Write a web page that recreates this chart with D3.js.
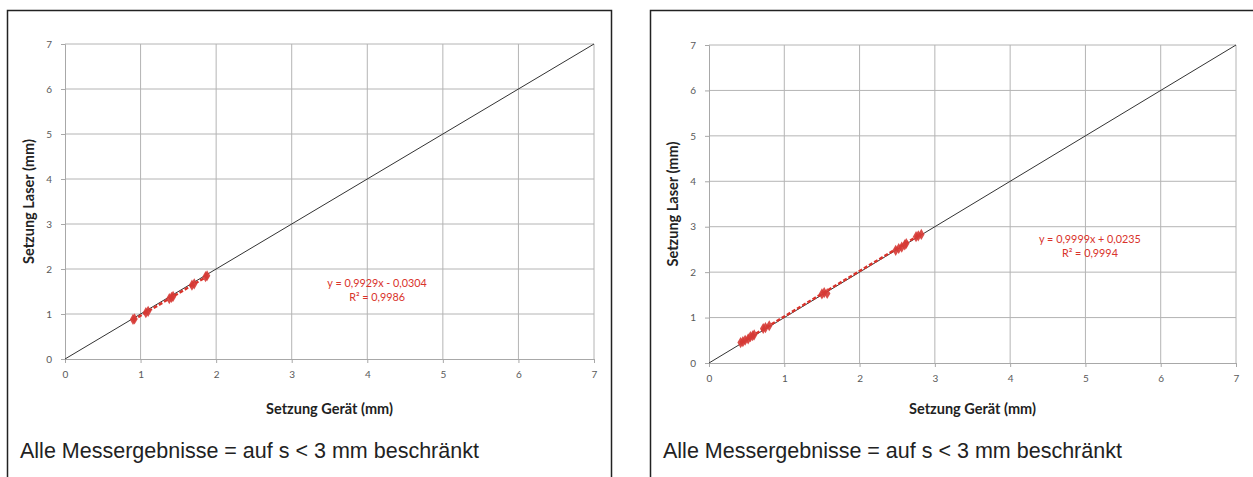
<!DOCTYPE html>
<html>
<head>
<meta charset="utf-8">
<script src="https://cdn.jsdelivr.net/npm/d3@7"></script>
<style>
    body { margin: 0; background: #fff; }
    .tick text { font-family: Lato, "Open Sans", sans-serif; font-size: 10px; fill: #595959; }
    .axis-title { font-family: Lato, "Open Sans", sans-serif; font-size: 14.5px; font-weight: bold; fill: #222; }
    .caption { font-family: "Liberation Sans", Arial, sans-serif; font-size: 21.5px; fill: #222; }
    .eq { font-family: Lato, "Open Sans", sans-serif; font-size: 10.8px; fill: #d9332b; }
</style>
</head>
<body>
<div id="chart"></div>
<script>

// ticks for both axes
let axisTicks = [0, 1, 2, 3, 4, 5, 6, 7];

// left chart: measured points (Gerät, Laser)
let leftGeraet = [0.90, 0.92, 1.07, 1.10, 1.38, 1.41, 1.43, 1.68, 1.71, 1.86, 1.88];
let leftLaser  = [0.88, 0.89, 1.03, 1.06, 1.34, 1.37, 1.39, 1.64, 1.67, 1.83, 1.85];
let leftTrend = {slope: 0.9929, intercept: -0.0304};
let leftEquation = ["y = 0,9929x - 0,0304", "R² = 0,9986"];

// right chart
let rightGeraet = [0.42, 0.45, 0.48, 0.52, 0.55, 0.58, 0.60, 0.72, 0.75, 0.80, 1.50, 1.53, 1.57, 2.48, 2.52, 2.56, 2.60, 2.62, 2.75, 2.78, 2.82];
let rightLaser  = [0.45, 0.47, 0.50, 0.53, 0.58, 0.60, 0.62, 0.76, 0.78, 0.82, 1.52, 1.55, 1.53, 2.48, 2.52, 2.55, 2.60, 2.63, 2.78, 2.80, 2.83];
let rightTrend = {slope: 0.9999, intercept: 0.0235};
let rightEquation = ["y = 0,9999x + 0,0235", "R² = 0,9994"];

let xTitle = "Setzung Gerät (mm)";
let yTitle = "Setzung Laser (mm)";
let caption = "Alle Messergebnisse = auf s < 3 mm beschränkt";

let svg = d3.select("#chart").append("svg")
    .attr("width", 1253)
    .attr("height", 477);

function drawPanel(opts) {
    let g = svg.append("g")
        .attr("transform", `translate(${opts.left}, 0)`);

    // frame
    g.append("rect")
        .attr("x", 0.5).attr("y", 10.5)
        .attr("width", opts.frameWidth).attr("height", 500)
        .attr("fill", "none")
        .attr("stroke", "#222")
        .attr("stroke-width", 1.5);

    let x = d3.scaleLinear().domain([0, 7]).range([opts.plotX0, opts.plotX1]);
    let y = d3.scaleLinear().domain([0, 7]).range([opts.plotY0, opts.plotY1]);

    // grid
    g.append("g").selectAll("line")
        .data(axisTicks.slice(1))
        .join("line")
        .attr("x1", d => x(d)).attr("x2", d => x(d))
        .attr("y1", y(0)).attr("y2", y(7))
        .attr("stroke", "#b4b4b4").attr("stroke-width", 1);
    g.append("g").selectAll("line")
        .data(axisTicks.slice(1))
        .join("line")
        .attr("x1", x(0)).attr("x2", x(7))
        .attr("y1", d => y(d)).attr("y2", d => y(d))
        .attr("stroke", "#b4b4b4").attr("stroke-width", 1);

    // axes
    let xAxis = g.append("g")
        .attr("transform", `translate(0, ${y(0)})`)
        .call(d3.axisBottom(x).tickValues(axisTicks).tickFormat(d3.format("d")).tickSize(4).tickPadding(8));
    let yAxis = g.append("g")
        .attr("transform", `translate(${x(0)}, 0)`)
        .call(d3.axisLeft(y).tickValues(axisTicks).tickFormat(d3.format("d")).tickSize(4).tickPadding(9));
    [xAxis, yAxis].forEach(a => {
        a.select(".domain").attr("stroke", "#a8a8a8");
        a.selectAll(".tick line").attr("stroke", "#a8a8a8");
    });

    // 1:1 line
    g.append("line")
        .attr("x1", x(0)).attr("y1", y(0))
        .attr("x2", x(7)).attr("y2", y(7))
        .attr("stroke", "#333").attr("stroke-width", 1);

    // trend line
    let xMin = d3.min(opts.xs), xMax = d3.max(opts.xs);
    g.append("line")
        .attr("x1", x(xMin)).attr("y1", y(opts.trend.slope * xMin + opts.trend.intercept))
        .attr("x2", x(xMax)).attr("y2", y(opts.trend.slope * xMax + opts.trend.intercept))
        .attr("stroke", "#d9332b").attr("stroke-width", 2.4)
        .attr("stroke-dasharray", "4,2");

    // points (diamonds)
    let pts = opts.xs.map((d, i) => ({gx: d, ly: opts.ys[i]}));
    g.append("g").selectAll("path")
        .data(pts)
        .join("path")
        .attr("d", d3.symbol().type(d3.symbolDiamond).size(36))
        .attr("transform", d => `translate(${x(d.gx)}, ${y(d.ly)})`)
        .attr("fill", "#d63a35")
        .attr("fill-opacity", 0.9);

    // equation
    let eq = g.append("text").attr("class", "eq").attr("text-anchor", "middle");
    eq.selectAll("tspan")
        .data(opts.equation)
        .join("tspan")
        .attr("x", x(opts.eqPos[0]))
        .attr("y", (d, i) => y(opts.eqPos[1]) + i * 14)
        .text(d => d);

    // axis titles
    g.append("text").attr("class", "axis-title")
        .attr("text-anchor", "middle")
        .attr("x", (x(0) + x(7)) / 2)
        .attr("y", 414)
        .text(xTitle);
    g.append("text").attr("class", "axis-title")
        .attr("text-anchor", "middle")
        .attr("transform", `translate(${x(0) - 31}, ${(y(0) + y(7)) / 2}) rotate(-90)`)
        .text(yTitle);

    // caption
    g.append("text").attr("class", "caption")
        .attr("x", 13)
        .attr("y", 458)
        .text(caption);
}

drawPanel({
    left: 7, frameWidth: 604,
    plotX0: 58, plotX1: 587, plotY0: 359, plotY1: 44,
    xs: leftGeraet, ys: leftLaser, trend: leftTrend,
    equation: leftEquation, eqPos: [4.13, 1.6]
});

drawPanel({
    left: 650, frameWidth: 700,
    plotX0: 59, plotX1: 586, plotY0: 363, plotY1: 45,
    xs: rightGeraet, ys: rightLaser, trend: rightTrend,
    equation: rightEquation, eqPos: [5.06, 2.64]
});

</script>
</body>
</html>
